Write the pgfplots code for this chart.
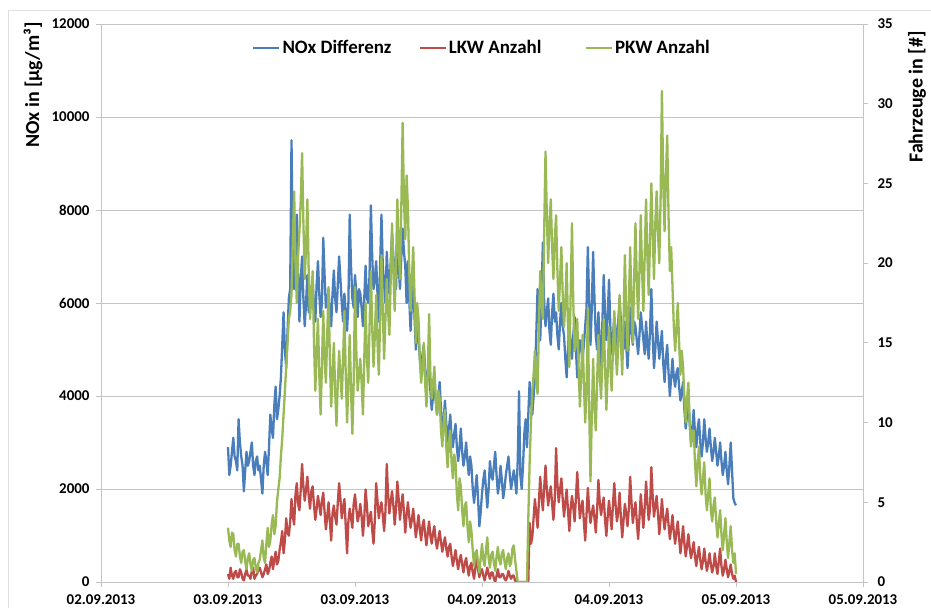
\documentclass[border=0pt]{standalone}
\usepackage{fontspec}
\setmainfont{Carlito}
\usepackage{pgfplots}
\usepackage{pgfplotstable}
\pgfplotsset{compat=1.18}
\definecolor{noxblue}{HTML}{4A7EBB}
\definecolor{lkwred}{HTML}{BE4B48}
\definecolor{pkwgreen}{HTML}{98B954}
\definecolor{gridgray}{HTML}{C4C4C4}

\pgfplotstableread{
t nox lkw pkw
12 2900 0.5 3.4
12.125 2300 0.2 2.6
12.25 2500 0.9 2.2
12.375 2800 0.4 3.1
12.5 3100 0.2 3.0
12.625 2700 0.6 2.0
12.75 2600 0.7 1.6
12.875 2400 0.3 2.4
13 3500 0.3 2.4
13.125 3000 0.8 1.6
13.25 2700 0.6 1.2
13.375 2500 0.2 1.9
13.5 1950 0.1 2.0
13.625 2400 0.5 1.3
13.75 2800 0.8 0.8
13.875 2500 0.4 1.5
14 2600 0.4 1.8
14.125 2800 0.2 1.1
14.25 3000 0.7 0.7
14.375 2500 0.9 1.4
14.5 2300 0.2 1.5
14.625 2600 0.4 0.9
14.75 2700 0.5 0.6
14.875 2400 0.8 1.2
15 2500 0.9 1.4
15.125 2200 0.6 2.0
15.25 1900 0.3 2.6
15.375 2500 0.5 1.5
15.5 2800 0.8 1.2
15.625 2600 1.1 2.4
15.75 2300 0.5 3.4
15.875 2900 0.7 2.2
16 3600 1.2 2.6
16.125 3300 1.6 3.6
16.25 3100 0.8 4.2
16.375 3800 1.4 3.0
16.5 4200 1.9 3.5
16.625 3500 1.1 5.0
16.75 3700 1.3 5.8
16.875 4000 2.0 6.5
17 4400 2.5 7.9
17.125 5100 3.2 9.0
17.25 5800 1.8 10.5
17.375 5000 2.6 12.0
17.5 4600 4.0 13.5
17.625 5400 3.1 15.0
17.75 6100 2.9 16.5
17.875 6300 3.8 17.0
18 9500 5.2 18.0
18.125 7000 4.1 21.5
18.25 6300 3.6 24.5
18.375 6700 5.5 20.0
18.5 7900 6.2 17.5
18.625 6600 4.9 20.5
18.75 5600 4.5 22.0
18.875 6500 5.8 24.0
19 7000 7.4 26.9
19.125 6100 6.0 22.5
19.25 5500 5.1 19.0
19.375 6000 5.8 21.0
19.5 6600 6.6 24.0
19.625 5800 5.4 19.5
19.75 5900 4.6 16.5
19.875 6300 5.7 18.0
20 6500 6.0 19.5
20.125 5900 4.8 15.0
20.25 5600 3.9 12.0
20.375 6400 4.6 14.5
20.5 6900 5.4 16.5
20.625 6200 4.8 13.0
20.75 5700 4.2 10.5
20.875 6000 5.1 13.5
21 7400 5.6 17.0
21.125 6600 4.4 14.0
21.25 5900 3.3 12.5
21.375 6000 4.1 15.5
21.5 6300 5.0 18.5
21.625 5800 3.8 14.0
21.75 5500 2.6 11.0
21.875 6200 4.3 13.0
22 6700 4.8 15.0
22.125 6100 4.1 12.0
22.25 5800 3.6 9.8
22.375 6400 5.0 12.5
22.5 7000 6.2 14.5
22.625 6500 5.2 13.0
22.75 6000 4.0 11.5
22.875 5600 4.7 14.0
23 6200 5.2 17.0
23.125 5800 3.5 13.0
23.25 5400 1.8 10.0
23.375 6000 3.8 12.5
23.5 7900 4.6 15.5
23.625 6800 4.0 12.0
23.75 6100 3.4 9.3
23.875 5900 4.9 12.5
24 6600 5.5 18.5
24.125 6200 4.6 14.5
24.25 5700 3.8 12.0
24.375 6300 4.2 13.0
24.5 6200 4.9 14.0
24.625 5900 4.1 12.5
24.75 5500 2.9 10.5
24.875 6100 4.0 14.0
25 6800 5.8 17.5
25.125 6100 4.8 14.0
25.25 6000 3.5 12.5
25.375 6600 4.0 16.0
25.5 8100 4.4 19.5
25.625 7000 3.3 16.0
25.75 6300 2.4 13.5
25.875 6500 3.9 15.5
26 6900 6.2 18.0
26.125 6200 5.1 15.0
26.25 5600 4.0 13.0
26.375 6800 4.6 16.5
26.5 7900 5.0 20.5
26.625 6800 4.2 17.0
26.75 6400 3.2 14.0
26.875 6000 4.4 16.5
27 7100 7.4 19.0
27.125 6500 5.5 17.0
27.25 6200 4.3 15.5
27.375 6900 5.0 19.0
27.5 7500 5.7 22.5
27.625 7000 4.8 19.5
27.75 6700 3.6 17.0
27.875 6300 4.6 20.0
28 7200 6.3 24.0
28.125 6800 5.2 21.0
28.25 6300 3.9 19.0
28.375 7000 4.8 23.5
28.5 7600 5.5 28.8
28.625 7100 4.4 24.0
28.75 6800 3.1 21.5
28.875 6000 4.2 25.5
29 6900 5.0 23.5
29.125 6100 4.1 19.5
29.25 5400 3.4 17.0
29.375 6000 3.9 19.0
29.5 6600 4.6 21.0
29.625 5700 3.7 18.0
29.75 5000 2.8 15.0
29.875 5600 3.5 17.5
30 5300 4.2 16.5
30.125 4800 3.3 14.0
30.25 4500 2.6 12.5
30.375 4900 3.5 13.5
30.5 5100 3.9 15.0
30.625 4600 3.0 12.5
30.75 4200 2.3 11.0
30.875 4500 3.1 13.0
31 4700 3.8 16.8
31.125 4100 2.9 13.0
31.25 3700 2.4 11.5
31.375 4000 3.1 12.5
31.5 4400 3.5 13.5
31.625 3900 2.6 11.5
31.75 3600 2.1 10.5
31.875 4000 2.7 12.0
32 4300 3.2 11.5
32.125 3700 2.5 9.5
32.25 3200 1.9 8.5
32.375 3500 2.4 10.0
32.5 3900 2.8 10.8
32.625 3400 2.1 8.5
32.75 3000 1.6 7.2
32.875 3300 2.2 8.8
33 3600 2.4 9.5
33.125 3100 1.6 7.5
33.25 2900 1.0 6.5
33.375 3200 1.5 8.0
33.5 3400 2.0 7.5
33.625 2900 1.3 5.5
33.75 2600 0.8 4.5
33.875 2900 1.4 6.5
34 3300 1.7 6.0
34.125 2800 1.1 4.5
34.25 2500 0.6 3.5
34.375 2700 1.2 4.8
34.5 3000 1.5 5.0
34.625 2600 0.9 3.5
34.75 2300 0.4 2.5
34.875 2700 1.0 3.8
35 2500 1.2 3.2
35.125 2000 0.6 2.0
35.25 1700 0.2 1.0
35.375 2000 0.9 1.8
35.5 2300 1.6 2.0
35.625 1800 0.8 1.2
35.75 1200 0.3 0.6
35.875 1500 0.7 1.5
36 1900 0.8 2.4
36.125 2200 0.4 1.4
36.25 2400 0.1 1.0
36.375 2000 0.5 2.0
36.5 1600 0.9 2.8
36.625 2000 0.5 1.5
36.75 2600 0.2 0.9
36.875 2300 0.6 1.7
37 2200 0.6 1.9
37.125 2500 0.2 1.2
37.25 2800 0.0 0.7
37.375 2300 0.4 1.6
37.5 1900 0.8 2.2
37.625 2100 0.3 1.4
37.75 2500 0.3 1.1
37.875 2200 0.5 1.8
38 1800 0.5 2.0
38.125 2000 0.2 1.3
38.25 2300 0.1 0.8
38.375 2500 0.3 1.5
38.5 2700 0.7 1.8
38.625 2300 0.4 1.0
38.75 2000 0.2 1.2
38.875 2200 0.4 2.1
39 2400 0.4 2.3
39.125 2200 0.1 1.4
39.25 1900 0.0 0.7
39.375 2600 0.0 0.0
39.5 4100 0.0 0.0
39.625 2300 0.0 0.0
39.75 2000 0.0 0.0
39.875 2500 0.0 0.0
40 3200 0.0 0.0
40.125 3500 0.0 0.0
40.25 2900 0.0 0.0
40.375 3600 0.0 4.0
40.5 4300 3.7 7.5
40.625 3900 2.4 10.0
40.75 3600 2.8 12.0
40.875 4000 4.0 13.0
41 4400 5.2 14.5
41.125 5300 4.3 12.5
41.25 6300 3.4 11.8
41.375 5700 5.0 16.0
41.5 5200 6.6 19.5
41.625 6100 5.4 17.5
41.75 7300 4.5 16.5
41.875 6000 5.9 22.0
42 5500 7.3 27.0
42.125 5800 5.8 23.0
42.25 6100 4.8 20.0
42.375 5400 5.5 22.5
42.5 5100 6.0 24.0
42.625 5800 4.9 21.0
42.75 6200 3.9 19.0
42.875 5600 5.2 21.5
43 5800 8.4 23.0
43.125 5300 6.1 19.5
43.25 5000 5.0 17.0
43.375 5600 5.8 19.0
43.5 6000 6.5 21.0
43.625 5500 5.2 18.0
43.75 5300 4.1 16.0
43.875 4800 5.0 17.5
44 4400 5.8 20.0
44.125 5000 4.5 16.0
44.25 5600 3.2 13.5
44.375 5100 4.6 18.0
44.5 4800 5.4 22.5
44.625 5300 4.7 17.5
44.75 5700 3.8 14.5
44.875 5000 5.3 15.0
45 4400 6.9 16.5
45.125 4900 5.3 13.5
45.25 5200 4.0 11.0
45.375 5000 4.7 13.0
45.5 4800 5.1 15.5
45.625 5100 3.8 12.5
45.75 5500 2.6 10.0
45.875 5900 4.2 12.0
46 7200 5.9 17.2
46.125 6000 4.6 11.0
46.25 5100 3.7 6.3
46.375 5900 4.3 10.5
46.5 7100 4.8 14.0
46.625 6100 4.0 11.0
46.75 5300 3.1 9.5
46.875 5000 4.5 12.5
47 5800 6.4 15.5
47.125 5100 5.0 13.0
47.25 4600 4.2 11.5
47.375 5600 4.8 14.0
47.5 6600 5.3 16.5
47.625 5800 3.9 13.5
47.75 5200 2.9 10.8
47.875 5700 4.1 13.0
48 6500 5.1 16.0
48.125 5500 4.2 13.5
48.25 4900 3.3 12.0
48.375 5300 4.9 14.5
48.5 5700 6.2 17.0
48.625 5400 4.8 14.5
48.75 5100 3.8 13.0
48.875 5600 4.4 15.0
49 6100 5.6 18.0
49.125 5600 4.0 15.0
49.25 5300 2.8 13.0
49.375 5000 3.9 16.5
49.5 5600 4.9 20.5
49.625 5100 4.3 17.0
49.75 4600 3.5 14.5
49.875 5200 4.6 17.5
50 5900 6.6 21.0
50.125 5400 5.0 17.5
50.25 5100 3.7 15.0
50.375 5600 4.4 19.0
50.5 5500 5.0 22.5
50.625 5200 3.8 19.0
50.75 4900 2.7 16.5
50.875 5300 4.0 19.5
51 5800 5.5 23.0
51.125 5500 4.4 19.5
51.25 5200 3.4 17.0
51.375 4900 4.7 20.5
51.5 5600 6.3 24.0
51.625 5100 5.0 20.5
51.75 4800 3.9 18.0
51.875 5400 4.6 21.5
52 6300 7.2 25.0
52.125 5300 5.4 22.0
52.25 4600 4.1 19.0
52.375 5000 4.8 22.5
52.5 5600 5.4 24.5
52.625 5200 4.3 22.0
52.75 4800 3.0 20.0
52.875 5100 4.0 24.0
53 5400 5.2 30.8
53.125 4700 4.1 25.0
53.25 4300 3.3 22.0
53.375 4800 4.0 25.5
53.5 5100 4.6 28.0
53.625 4500 3.6 23.0
53.75 4000 2.7 19.5
53.875 4400 3.4 21.0
54 4800 4.2 18.5
54.125 4400 3.1 16.0
54.25 4200 2.4 14.5
54.375 4500 3.2 16.0
54.5 4600 3.8 17.5
54.625 4200 2.7 15.0
54.75 3900 1.8 13.0
54.875 4100 2.6 14.5
55 4300 3.5 13.5
55.125 3700 2.4 11.5
55.25 3300 1.6 10.0
55.375 3600 2.3 11.5
55.5 3900 3.0 12.5
55.625 3400 2.1 10.0
55.75 3000 1.5 8.5
55.875 3300 2.0 9.5
56 3700 2.5 9.5
56.125 3200 1.6 7.5
56.25 2900 1.0 6.0
56.375 3300 1.7 7.5
56.5 3500 2.2 8.5
56.625 3000 1.4 6.5
56.75 2700 0.8 5.5
56.875 3000 1.3 6.5
57 3500 2.1 7.5
57.125 3100 1.3 5.5
57.25 2800 0.7 4.5
57.375 3000 1.2 5.5
57.5 3300 1.8 6.5
57.625 2900 1.1 4.5
57.75 2600 0.6 3.8
57.875 2800 1.0 4.8
58 3100 1.8 5.3
58.125 2800 1.0 3.8
58.25 2500 0.5 2.8
58.375 2700 1.3 3.7
58.5 3000 2.1 4.5
58.625 2600 1.0 3.0
58.75 2300 0.4 2.0
58.875 2500 0.8 3.0
59 2800 1.4 4.0
59.125 2400 0.8 2.5
59.25 2100 0.3 1.5
59.375 2500 0.7 2.5
59.5 3000 1.1 3.5
59.625 2400 0.5 2.0
59.75 1800 0.2 1.2
59.875 1700 0.4 1.8
60 1650 0.0 0.5
}\datatable

\pgfplotsset{
  common/.style={
    at={(101bp,26bp)}, anchor=south west,
    scale only axis, width=762bp, height=558bp,
    xmin=0, xmax=72,
    ticklabel style={font=\fontsize{15}{18}\selectfont\bfseries},
    /pgf/number format/assume math mode=true,
    /pgf/number format/1000 sep={},
    scaled y ticks=false,
    tick align=outside, major tick length=5bp,
    every tick/.style={gridgray, line width=0.8bp},
    axis line style={gridgray, line width=0.8bp},
  },
  ser/.style={line width=2.3bp, line join=round},
}

\begin{document}
\begin{tikzpicture}
\path[use as bounding box] (0,0) rectangle (931bp,608bp);
\draw[gray!25, line width=0.8bp] (8bp,0) -- (8bp,598bp) -- (931bp,598bp);
\begin{axis}[common,
  axis x line*=bottom, axis y line*=left,
  xtick={0,12,...,72},
  xticklabels={02.09.2013,03.09.2013,03.09.2013,04.09.2013,04.09.2013,05.09.2013,05.09.2013},
  xticklabel style={yshift=-4.5bp},
  ymin=0, ymax=12000, ytick={0,2000,...,12000},
  ymajorgrids, grid style={gridgray, line width=0.8bp},
  yticklabel style={xshift=-3bp},
]
\addplot[noxblue, ser] table[x=t, y=nox]{\datatable};
\end{axis}
\begin{axis}[common,
  axis x line=none, axis y line*=right,
  ymin=0, ymax=35, ytick={0,5,...,35},
  yticklabel style={xshift=6bp},
  legend style={at={(0.5,0.957)}, anchor=center, draw=none, fill=none,
    font=\fontsize{19}{22}\selectfont\bfseries,
    /tikz/every even column/.append style={column sep=0bp}},
  legend columns=3,
  legend image code/.code={\draw[#1] (0bp,0bp) -- (26bp,0bp);},
]
\addlegendimage{noxblue, ser}
\addlegendentry{\makebox[134bp][l]{NOx Differenz}}
\addplot[lkwred, ser] table[x=t, y=lkw]{\datatable};
\addlegendentry{\makebox[134bp][l]{LKW Anzahl}}
\addplot[pkwgreen, ser] table[x=t, y=pkw]{\datatable};
\addlegendentry{PKW Anzahl}
\end{axis}
\node[rotate=90, font=\fontsize{20}{23}\selectfont\bfseries] at (33bp,523bp) {NOx in [µg/m³]};
\node[rotate=90, font=\fontsize{20}{23}\selectfont\bfseries] at (917bp,511bp) {Fahrzeuge in [\#]};
\end{tikzpicture}
\end{document}
